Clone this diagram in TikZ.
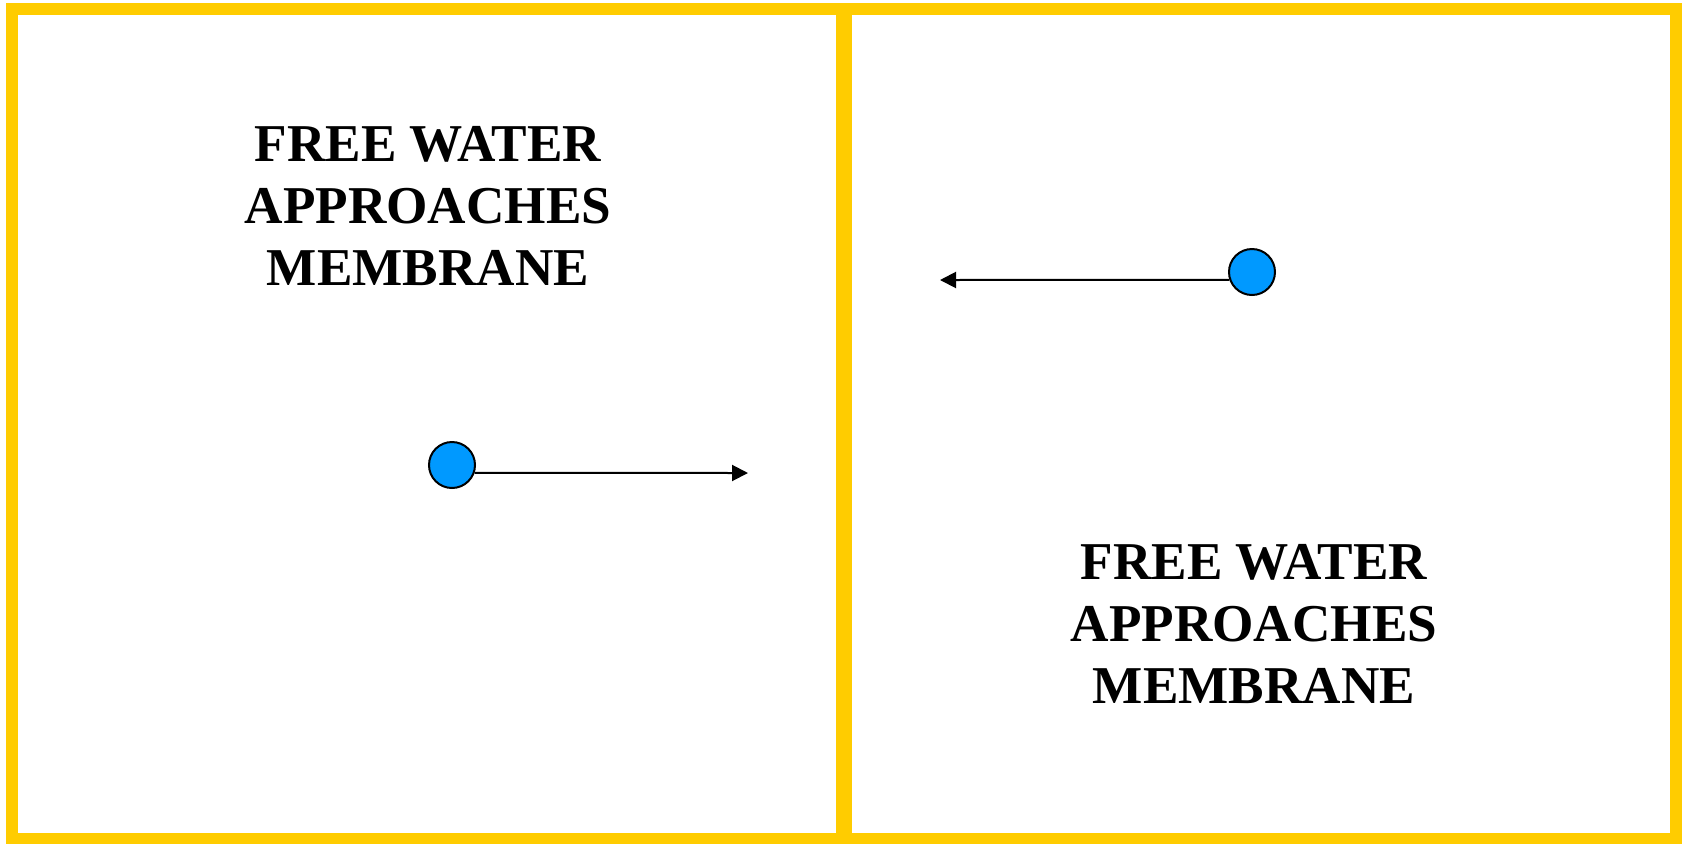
\documentclass[tikz,border=0pt]{standalone}
\usepackage{fontspec}
\setmainfont{Liberation Serif}
\usetikzlibrary{arrows.meta, positioning}

\definecolor{membraneyellow}{HTML}{FFCC00}
\definecolor{waterblue}{HTML}{0099FF}

\begin{document}
\begin{tikzpicture}[x=0.5pt, y=-0.5pt,
		side/.style={draw=membraneyellow, line width=6pt},
		water/.style={circle, draw=black, line width=1pt, fill=waterblue, minimum size=23pt, inner sep=0pt},
		flow/.style={line width=1pt, -{Triangle[length=8pt, width=8pt]}},
		caption/.style={anchor=north, inner sep=0pt, align=center, font=\fontsize{26.6}{31}\selectfont\bfseries}]
			\useasboundingbox (0,0) rectangle (1683,843);
			% the two compartments
			\draw[side] (12,9) rectangle (842,839);
			\draw[side] (846,9) rectangle (1676,839);
			% left side
			\node[caption] (textL) at (428,126) {FREE WATER\\APPROACHES\\MEMBRANE};
			\node[water] (dotL) at (452,465) {};
			\coordinate (tipL) at (748,473);
			\draw[flow] (dotL.-19) -- (tipL);
			% right side
			\node[caption] (textR) at (1254,544) {FREE WATER\\APPROACHES\\MEMBRANE};
			\node[water] (dotR) at (1252,272) {};
			\coordinate (tipR) at (940,280);
			\draw[flow] (dotR.199) -- (tipR);
		\end{tikzpicture}
\end{document}
